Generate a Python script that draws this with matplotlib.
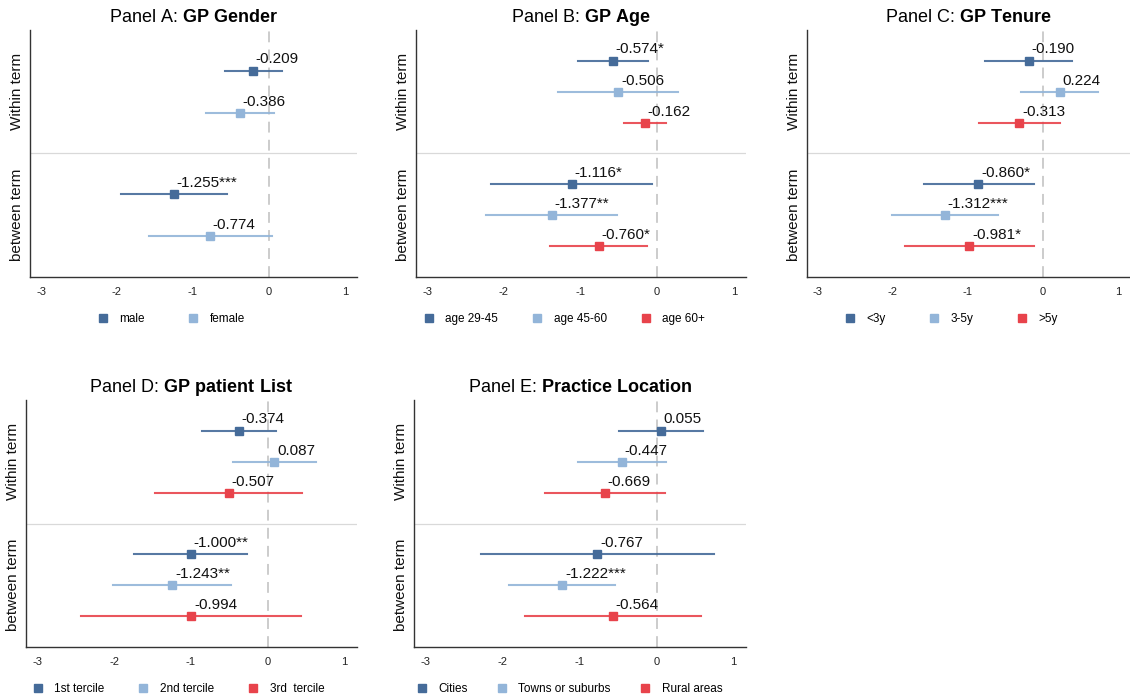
import matplotlib.pyplot as plt
from matplotlib.lines import Line2D

plt.rcParams['font.family'] = ['Liberation Sans', 'DejaVu Sans']
plt.rcParams['mathtext.fontset'] = 'custom'
plt.rcParams['mathtext.rm'] = 'Liberation Sans'
plt.rcParams['mathtext.bf'] = 'Liberation Sans:bold'

dark = '#456b99'
light = '#93b5d9'
red = '#e8434b'

# Panel A: GP Gender
a_labels = ['male', 'female']
a_est = {'within': [-0.209, -0.386], 'between': [-1.255, -0.774]}
a_lo = {'within': [-0.579, -0.833], 'between': [-1.952, -1.575]}
a_hi = {'within': [0.167, 0.066], 'between': [-0.557, 0.035]}
a_txt = {'within': ['-0.209', '-0.386'], 'between': ['-1.255***', '-0.774']}

# Panel B: GP Age
b_labels = ['age 29-45', 'age 45-60', 'age 60+']
b_est = {'within': [-0.574, -0.506, -0.162], 'between': [-1.116, -1.377, -0.760]}
b_lo = {'within': [-1.026, -1.288, -0.437], 'between': [-2.166, -2.236, -1.393]}
b_hi = {'within': [-0.118, 0.275, 0.114], 'between': [-0.066, -0.524, -0.127]}
b_txt = {'within': ['-0.574*', '-0.506', '-0.162'], 'between': ['-1.116*', '-1.377**', '-0.760*']}

# Panel C: GP Tenure
c_labels = ['<3y', '3-5y', '>5y']
c_est = {'within': [-0.190, 0.224, -0.313], 'between': [-0.860, -1.312, -0.981]}
c_lo = {'within': [-0.767, -0.293, -0.854], 'between': [-1.590, -2.015, -1.840]}
c_hi = {'within': [0.385, 0.736, 0.228], 'between': [-0.123, -0.604, -0.118]}
c_txt = {'within': ['-0.190', '0.224', '-0.313'], 'between': ['-0.860*', '-1.312***', '-0.981*']}

# Panel D: GP patient list
d_labels = ['1st tercile', '2nd tercile', '3rd  tercile']
d_est = {'within': [-0.374, 0.087, -0.507], 'between': [-1.000, -1.243, -0.994]}
d_lo = {'within': [-0.860, -0.450, -1.463], 'between': [-1.734, -2.009, -2.432]}
d_hi = {'within': [0.109, 0.624, 0.450], 'between': [-0.266, -0.485, 0.428]}
d_txt = {'within': ['-0.374', '0.087', '-0.507'], 'between': ['-1.000**', '-1.243**', '-0.994']}

# Panel E: Practice location
e_labels = ['Cities', 'Towns or suburbs', 'Rural areas']
e_est = {'within': [0.055, -0.447, -0.669], 'between': [-0.767, -1.222, -0.564]}
e_lo = {'within': [-0.484, -1.012, -1.452], 'between': [-2.281, -1.919, -1.701]}
e_hi = {'within': [0.602, 0.118, 0.109], 'between': [0.741, -0.536, 0.576]}
e_txt = {'within': ['0.055', '-0.447', '-0.669'], 'between': ['-0.767', '-1.222***', '-0.564']}

W, H = 1130, 699
fig = plt.figure(figsize=(W / 100, H / 100), dpi=100)


def panel(rect, title_a, title_b, labels, est, lo, hi, txt, legend_x, colsp):
    l, t, r, b = rect
    ax = fig.add_axes([l / W, 1 - b / H, (r - l) / W, (b - t) / H])
    n = len(labels)
    colors = [dark, light, red][:n]
    offs = [0.171, -0.171] if n == 2 else [0.252, 0.0, -0.252]
    centers = {'within': 1.5, 'between': 0.5}
    ax.axvline(0, color='#c8c8c8', lw=1.3, ls=(0, (6, 4)), zorder=1)
    ax.axhline(1, color='#d9d9d9', lw=0.9, zorder=1)
    for g, yc in centers.items():
        for i in range(n):
            y = yc + offs[i]
            ax.plot([lo[g][i], hi[g][i]], [y, y], color=colors[i], lw=1.5, alpha=0.9, zorder=2)
            ax.plot(est[g][i], y, 's', color=colors[i], ms=5.5, zorder=3)
            ax.annotate(txt[g][i], (est[g][i], y), xytext=(2, 3), textcoords='offset points',
                        ha='left', va='bottom', fontsize=11, color='#111111')
    ax.set_xlim(-3.145, 1.16)
    ax.set_ylim(0, 2)
    ax.set_xticks([-3, -2, -1, 0, 1])
    ax.set_xticklabels(['-3', '-2', '-1', '0', '1'])
    ax.set_yticks([0.5, 1.5])
    ax.set_yticklabels(['between term', 'Within term'], rotation=90, va='center', fontsize=11)
    ax.tick_params(axis='x', length=0, pad=7, labelsize=8, colors='#222222')
    ax.tick_params(axis='y', length=0, pad=4, colors='#111111')
    for s in ['top', 'right']:
        ax.spines[s].set_visible(False)
    for s in ['left', 'bottom']:
        ax.spines[s].set_color('#333333')
        ax.spines[s].set_linewidth(1.0)
    ax.set_title(title_a + r'$\mathbf{' + title_b.replace(' ', r'\ ') + '}$', fontsize=13, pad=6)
    handles = [Line2D([], [], ls='none', marker='s', ms=6, color=c) for c in colors]
    fig.legend(handles, labels, loc='center', bbox_to_anchor=(legend_x / W, 1 - (b + 42) / H),
               ncol=n, frameon=False, fontsize=8.5, handletextpad=0.9, columnspacing=colsp,
               handlelength=1.0)
    return ax


panel((30, 30, 357, 277), 'Panel A: ', 'GP Gender', a_labels, a_est, a_lo, a_hi, a_txt, 171, 3.6)
panel((416, 30, 746, 277), 'Panel B: ', 'GP Age', b_labels, b_est, b_lo, b_hi, b_txt, 564, 2.8)
panel((807, 30, 1130, 277), 'Panel C: ', 'GP Tenure', c_labels, c_est, c_lo, c_hi, c_txt, 951, 3.6)
panel((26, 400, 357, 647), 'Panel D: ', 'GP patient List', d_labels, d_est, d_lo, d_hi, d_txt, 178, 2.8)
panel((414, 400, 746, 647), 'Panel E: ', 'Practice Location', e_labels, e_est, e_lo, e_hi, e_txt, 569, 2.4)

fig.savefig('out.png', dpi=100, facecolor='white')
